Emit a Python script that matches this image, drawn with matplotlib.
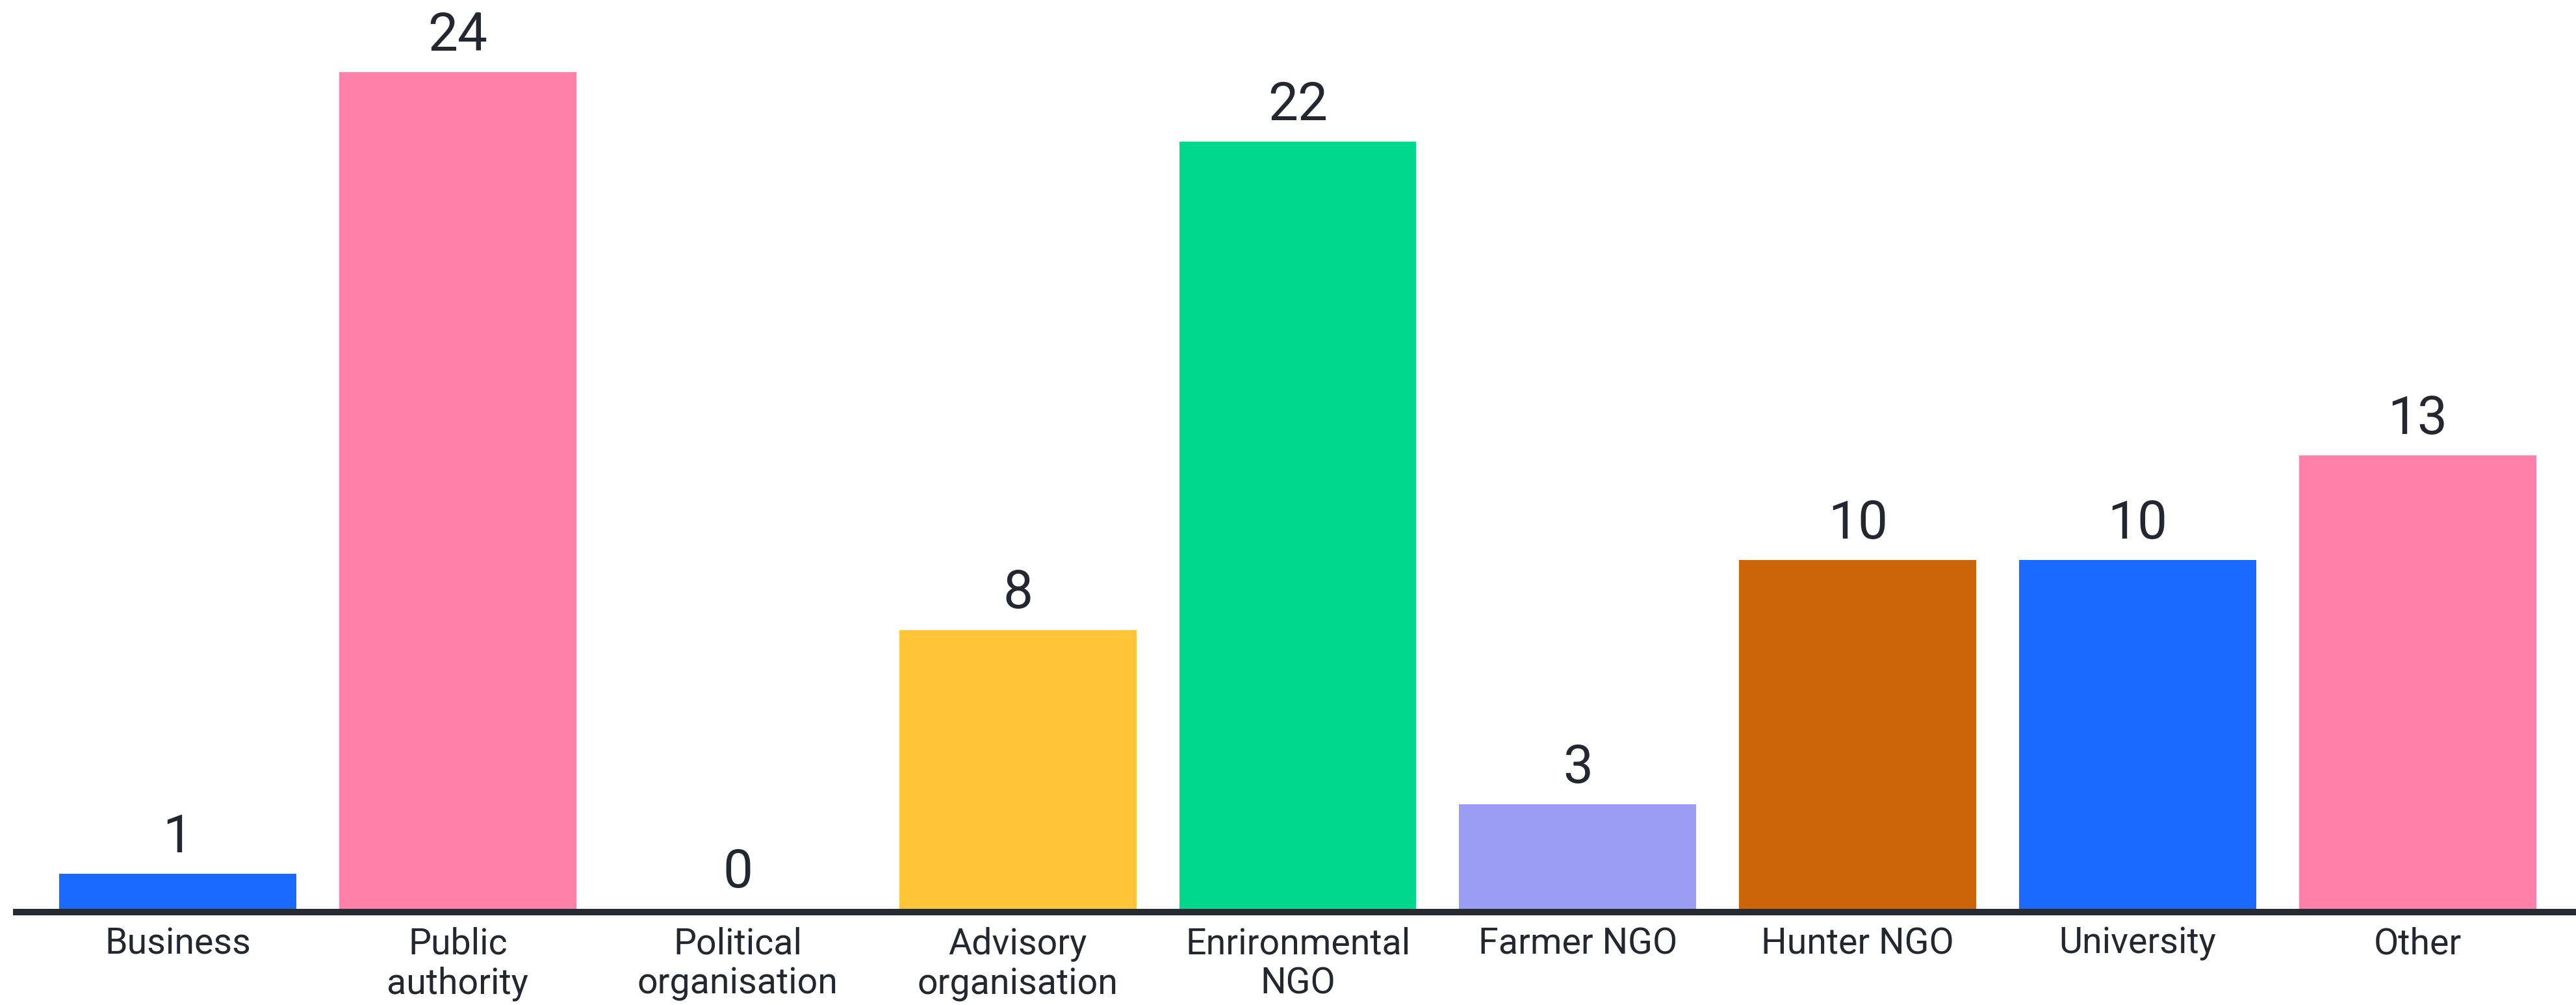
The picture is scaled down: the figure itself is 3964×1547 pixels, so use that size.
import matplotlib.pyplot as plt

categories = ['Business', 'Public\nauthority', 'Political\norganisation', 'Advisory\norganisation',
              'Enrironmental\nNGO', 'Farmer NGO', 'Hunter NGO', 'University', 'Other']
counts = [1, 24, 0, 8, 22, 3, 10, 10, 13]
colors = ['#1a6aff', '#ff80a9', '#7a5cff', '#ffc438', '#00d98b', '#9b9cf4', '#cc650a', '#1a6aff', '#ff80a9']

ink = '#23272f'
plt.rcParams['font.family'] = ['Roboto', 'DejaVu Sans']

W, H = 3964, 1547
fig = plt.figure(figsize=(W / 100, H / 100), dpi=100)
left = 25 / W
bottom = (H - 1399) / H
ax = fig.add_axes([left, bottom, 1 - left, 1 - bottom])

x = list(range(len(categories)))
ax.bar(x, counts, width=0.847, color=colors, zorder=2)

for xi, v in zip(x, counts):
    ax.annotate(str(v), (xi, v), xytext=(0, 24), textcoords='offset points',
                ha='center', va='baseline', fontsize=59, color=ink)

ax.set_xlim(-0.5767, 8.565)
ax.set_ylim(0, 1399 / 53.67)

for s in ['top', 'right', 'left']:
    ax.spines[s].set_visible(False)
ax.spines['bottom'].set_position(('outward', 3.6))
ax.spines['bottom'].set_linewidth(7.2)
ax.spines['bottom'].set_color('#262a31')
ax.spines['bottom'].set_zorder(3)

ax.set_yticks([])
ax.set_xticks(x)
ax.set_xticklabels(categories, fontsize=40, color=ink, linespacing=1.2)
ax.tick_params(axis='x', length=0, pad=16)

fig.savefig('out.png', dpi=100, facecolor='white')
